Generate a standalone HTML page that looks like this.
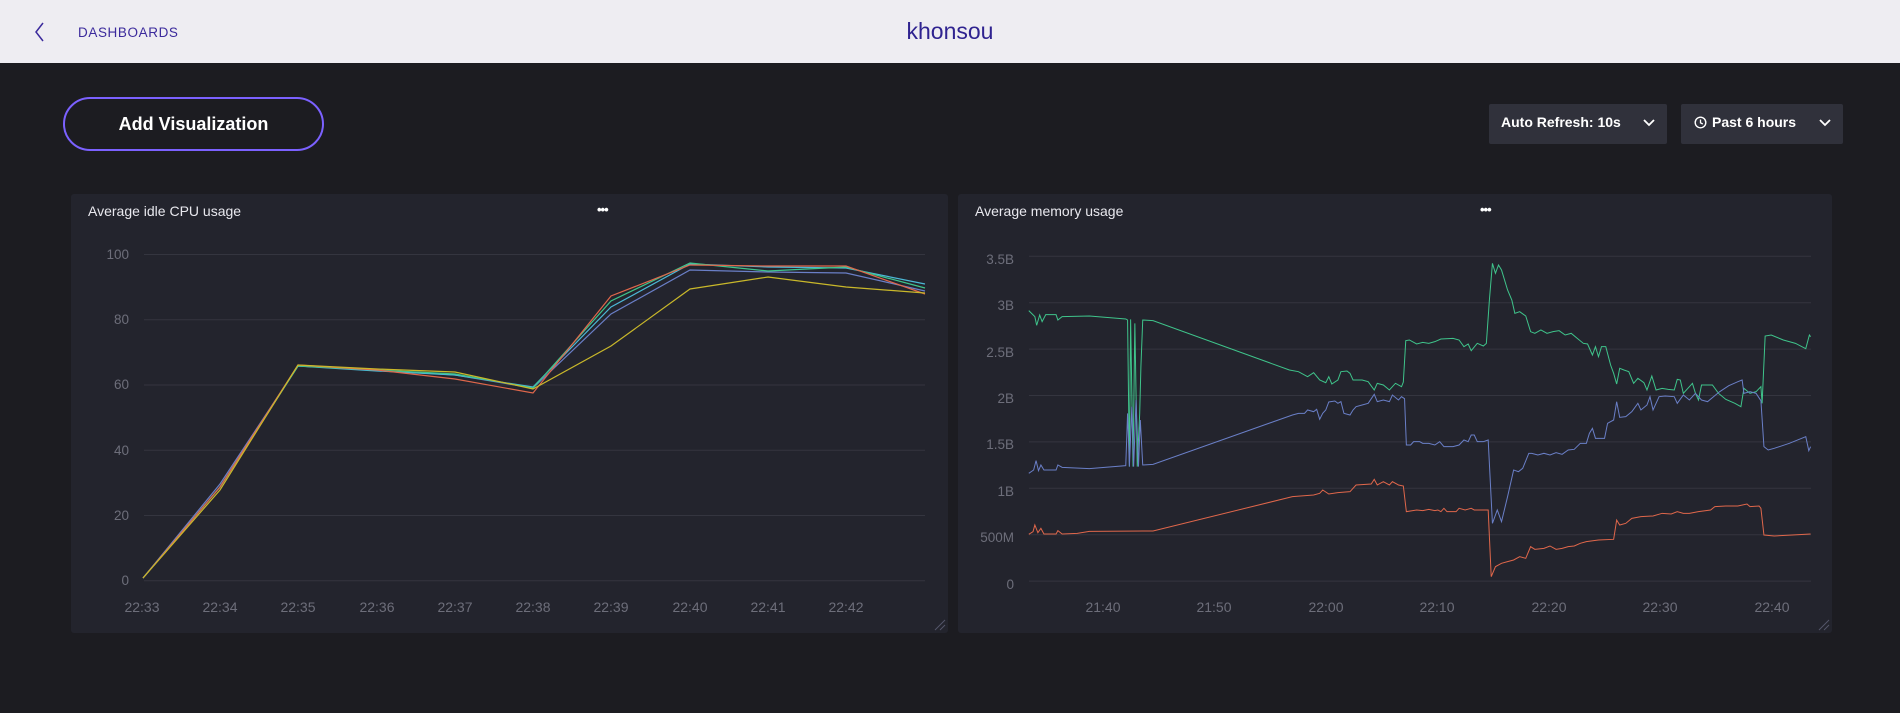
<!DOCTYPE html>
<html><head><meta charset="utf-8"><style>
*{margin:0;padding:0;box-sizing:border-box}
body{width:1900px;height:713px;background:#1c1c21;font-family:"Liberation Sans",sans-serif;position:relative;overflow:hidden}
.hdr{position:absolute;left:0;top:0;width:1900px;height:63px;background:#eeedf2}
.dash{position:absolute;left:78px;top:25px;font-size:13.5px;letter-spacing:0.6px;color:#3b2a9c}
.title{position:absolute;left:0;width:1900px;text-align:center;top:18px;font-size:23px;color:#2f2390}
.btn{position:absolute;left:63px;top:97px;width:261px;height:54px;border:2px solid #7b61ff;border-radius:27px;color:#fff;font-weight:bold;font-size:18px;text-align:center;line-height:50px}
.dd{position:absolute;top:104px;height:40px;background:#30313b;border-radius:2px;color:#fff;font-weight:bold;font-size:14px;line-height:37px;padding-left:12px}
.panel{position:absolute;top:194px;height:439px;background:#23242d;border-radius:3px}
.pt{position:absolute;top:9px;left:17px;color:#e8e8ee;font-size:14px}
.dots{position:absolute;top:8px;color:#fff;font-size:13px;font-weight:bold;letter-spacing:-1px}
</style></head><body>
<div class="hdr">
<svg style="position:absolute;left:34px;top:22px" width="12" height="20"><polyline points="9,1 2,10 9,19" fill="none" stroke="#3b2a9c" stroke-width="1.5"/></svg>
<div class="dash">DASHBOARDS</div>
<div class="title">khonsou</div>
</div>
<div class="btn">Add Visualization</div>
<div class="dd" style="left:1489px;width:178px">Auto Refresh: 10s<svg style="position:absolute;right:12px;top:15px" width="12" height="8"><polyline points="1,1 6,6 11,1" fill="none" stroke="#fff" stroke-width="1.8"/></svg></div>
<div class="dd" style="left:1681px;width:162px;padding-left:13px"><svg style="vertical-align:-2px;margin-right:5px" width="13" height="13"><circle cx="6.5" cy="6.5" r="5.3" fill="none" stroke="#fff" stroke-width="1.4"/><polyline points="6.5,3.5 6.5,6.8 8.8,8" fill="none" stroke="#fff" stroke-width="1.3"/></svg>Past 6 hours<svg style="position:absolute;right:12px;top:15px" width="12" height="8"><polyline points="1,1 6,6 11,1" fill="none" stroke="#fff" stroke-width="1.8"/></svg></div>

<div class="panel" style="left:71px;width:877px"><div class="pt">Average idle CPU usage</div><div class="dots" style="left:526px">•••</div></div>
<div class="panel" style="left:958px;width:874px"><div class="pt">Average memory usage</div><div class="dots" style="left:522px">•••</div></div>

<svg style="position:absolute;left:0;top:0" width="1900" height="713" font-family="Liberation Sans, sans-serif" font-size="13.5" fill="#6d6e7a">
<g stroke="#34353f" stroke-width="1">
<line x1="144" x2="925" y1="254.5" y2="254.5"/><line x1="144" x2="925" y1="319.8" y2="319.8"/><line x1="144" x2="925" y1="385" y2="385"/><line x1="144" x2="925" y1="450.3" y2="450.3"/><line x1="144" x2="925" y1="515.5" y2="515.5"/><line x1="144" x2="925" y1="580.8" y2="580.8"/>
</g>
<g text-anchor="end">
<text x="129" y="259">100</text><text x="129" y="324">80</text><text x="129" y="389">60</text><text x="129" y="455">40</text><text x="129" y="520">20</text><text x="129" y="585">0</text>
</g>
<g text-anchor="middle" font-size="14">
<text x="142" y="612">22:33</text><text x="220" y="612">22:34</text><text x="298" y="612">22:35</text><text x="377" y="612">22:36</text><text x="455" y="612">22:37</text><text x="533" y="612">22:38</text><text x="611" y="612">22:39</text><text x="690" y="612">22:40</text><text x="768" y="612">22:41</text><text x="846" y="612">22:42</text>
</g>
<g fill="none" stroke-width="1.2">
<polyline stroke="#6a7fc7" points="143,578 220,484 298,366 377,370 455,375 533,388 611,314 690,270 768,272 846,273 925,291"/>
<polyline stroke="#4cb8d6" points="143,578 220,487 298,366 377,371 455,375 533,387 611,307 690,264 768,267 846,268 925,284"/>
<polyline stroke="#3fc48b" points="143,578 220,487 298,366 377,370 455,374 533,388 611,301 690,263 768,271 846,267 925,288"/>
<polyline stroke="#e0674b" points="143,578 220,487 298,365 377,370 455,379 533,393 611,296 690,265 768,266 846,266 925,294"/>
<polyline stroke="#c9b82a" points="143,578 220,490 298,365 377,369 455,372 533,389 611,346 690,289 768,277 846,287 925,293"/>
</g>

<g stroke="#34353f">
<line x1="1029" x2="1811" y1="256.3" y2="256.3"/><line x1="1029" x2="1811" y1="302.7" y2="302.7"/><line x1="1029" x2="1811" y1="349.1" y2="349.1"/><line x1="1029" x2="1811" y1="395.5" y2="395.5"/><line x1="1029" x2="1811" y1="441.9" y2="441.9"/><line x1="1029" x2="1811" y1="488.3" y2="488.3"/><line x1="1029" x2="1811" y1="534.7" y2="534.7"/><line x1="1029" x2="1811" y1="581.1" y2="581.1"/>
</g>
<g text-anchor="end">
<text x="1014" y="264">3.5B</text><text x="1014" y="310">3B</text><text x="1014" y="357">2.5B</text><text x="1014" y="403">2B</text><text x="1014" y="449">1.5B</text><text x="1014" y="496">1B</text><text x="1014" y="542">500M</text><text x="1014" y="589">0</text>
</g>
<g text-anchor="middle" font-size="14">
<text x="1103" y="612">21:40</text><text x="1214" y="612">21:50</text><text x="1326" y="612">22:00</text><text x="1437" y="612">22:10</text><text x="1549" y="612">22:20</text><text x="1660" y="612">22:30</text><text x="1772" y="612">22:40</text>
</g>
<g transform="translate(950,180) scale(0.60606,0.33333)" fill="none" stroke-width="1">
<polyline vector-effect="non-scaling-stroke" stroke="#3fc48b" points="130,392 140,410 143,436 148,405 152,425 158,404 175,404 178,420 185,410 230,408 290,417 293,420 296,860 298,418 302,860 305,430 309,860 313,700 315,560 318,420 335,422 560,570 575,575 590,590 600,578 610,600 620,608 625,590 630,612 640,600 645,575 655,573 660,580 665,600 680,600 690,605 700,630 705,610 715,615 725,630 735,610 745,620 748,606 752,482 758,480 770,492 780,487 790,490 800,485 810,477 830,475 840,480 848,500 855,492 860,512 870,490 880,498 885,490 890,360 895,250 900,280 905,255 910,270 920,330 927,360 932,400 940,395 950,408 958,455 965,460 975,450 985,460 995,455 1005,452 1015,465 1025,460 1035,475 1045,490 1052,492 1060,525 1065,500 1070,530 1075,500 1082,500 1090,555 1095,580 1100,612 1105,565 1112,570 1120,575 1128,610 1135,595 1145,608 1150,630 1158,588 1165,630 1175,625 1185,628 1195,630 1200,598 1205,600 1210,640 1220,620 1225,610 1230,640 1235,660 1240,615 1250,615 1258,615 1268,640 1280,658 1295,670 1305,680 1310,625 1320,640 1330,635 1338,620 1340,670 1345,468 1355,465 1375,480 1395,490 1412,506 1418,465 1420,470"/>
<polyline vector-effect="non-scaling-stroke" stroke="#6a7fc7" points="130,880 138,870 142,842 146,872 150,855 155,870 175,870 178,855 185,862 230,866 290,857 293,700 296,860 300,680 303,860 307,660 311,860 314,720 318,855 335,853 565,705 575,700 585,700 590,690 600,695 605,688 610,718 615,700 620,690 625,666 635,663 640,670 645,665 650,700 660,705 665,690 670,680 680,675 690,670 700,643 705,665 715,660 725,665 730,645 740,660 745,650 750,656 753,795 760,795 765,785 775,785 780,790 790,790 800,795 808,785 815,800 830,800 840,795 848,780 855,785 860,765 865,765 870,785 880,785 888,780 895,1030 903,990 910,1025 920,950 930,870 938,875 945,865 955,820 960,820 970,825 980,820 990,825 1000,818 1010,823 1020,810 1030,808 1040,790 1050,790 1055,760 1060,745 1065,775 1080,775 1085,730 1095,720 1100,665 1105,712 1115,710 1125,695 1135,670 1140,690 1150,675 1155,650 1160,690 1170,650 1180,648 1195,650 1200,670 1210,645 1220,660 1230,640 1240,660 1250,665 1260,650 1270,635 1285,617 1300,605 1307,600 1310,640 1320,635 1330,640 1338,662 1343,800 1350,810 1360,805 1385,790 1412,770 1417,812 1420,800"/>
<polyline vector-effect="non-scaling-stroke" stroke="#e0674b" points="130,1063 137,1055 140,1035 145,1058 150,1045 155,1062 175,1062 178,1052 185,1062 210,1060 230,1054 335,1053 565,950 600,945 610,940 615,930 625,942 640,938 660,935 670,915 695,912 700,898 705,915 715,905 725,915 730,905 740,915 748,918 753,995 770,990 780,992 790,988 800,992 805,990 810,995 815,985 820,995 835,995 840,985 850,990 860,985 865,990 888,990 893,1190 900,1160 910,1150 920,1145 930,1140 940,1130 950,1135 958,1100 965,1108 980,1105 990,1098 1000,1108 1010,1105 1020,1100 1030,1098 1040,1090 1050,1085 1070,1080 1095,1078 1100,1020 1105,1035 1115,1030 1125,1015 1140,1010 1160,1008 1175,1000 1190,1002 1200,995 1210,1000 1220,1000 1235,995 1255,990 1262,980 1280,978 1300,978 1315,972 1320,980 1335,978 1338,985 1343,1065 1360,1068 1390,1065 1420,1062"/>
</g>
<g stroke="#55566a" stroke-width="1">
<line x1="935" y1="630" x2="945" y2="620"/><line x1="940" y1="630" x2="945" y2="625"/>
<line x1="1819" y1="630" x2="1829" y2="620"/><line x1="1824" y1="630" x2="1829" y2="625"/>
</g>
</svg>
</body></html>
